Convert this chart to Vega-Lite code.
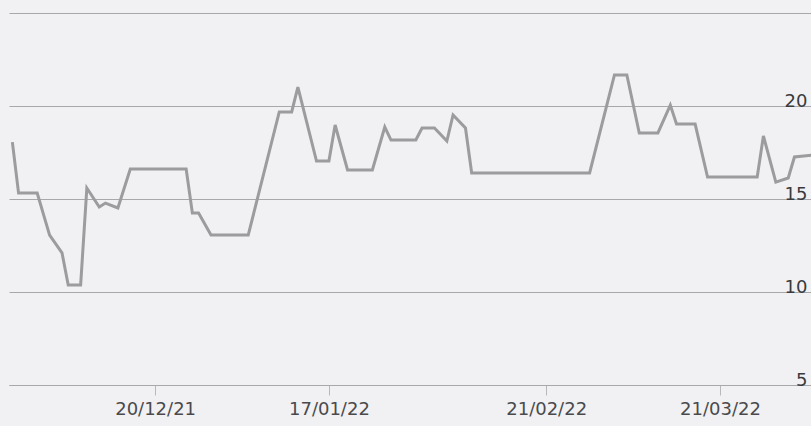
{
  "$schema": "https://vega.github.io/schema/vega-lite/v6.json",
  "width": 802,
  "height": 385,
  "autosize": "none",
  "padding": {"left": 9, "top": 0, "right": 0, "bottom": 41},
  "background": "#f1f1f3",
  "config": {"view": {"stroke": null}},
  "data": {"values": [
    {"date": "2021-11-27", "value": 18.06},
    {"date": "2021-11-28", "value": 15.32},
    {"date": "2021-12-01", "value": 15.32},
    {"date": "2021-12-03", "value": 13.06},
    {"date": "2021-12-05", "value": 12.10},
    {"date": "2021-12-06", "value": 10.38},
    {"date": "2021-12-08", "value": 10.38},
    {"date": "2021-12-09", "value": 15.59},
    {"date": "2021-12-11", "value": 14.57},
    {"date": "2021-12-12", "value": 14.78},
    {"date": "2021-12-14", "value": 14.52},
    {"date": "2021-12-16", "value": 16.61},
    {"date": "2021-12-25", "value": 16.61},
    {"date": "2021-12-26", "value": 14.25},
    {"date": "2021-12-27", "value": 14.25},
    {"date": "2021-12-29", "value": 13.06},
    {"date": "2022-01-04", "value": 13.06},
    {"date": "2022-01-09", "value": 19.68},
    {"date": "2022-01-11", "value": 19.68},
    {"date": "2022-01-12", "value": 21.02},
    {"date": "2022-01-15", "value": 17.04},
    {"date": "2022-01-17", "value": 17.04},
    {"date": "2022-01-18", "value": 18.98},
    {"date": "2022-01-20", "value": 16.56},
    {"date": "2022-01-24", "value": 16.56},
    {"date": "2022-01-26", "value": 18.87},
    {"date": "2022-01-27", "value": 18.17},
    {"date": "2022-01-31", "value": 18.17},
    {"date": "2022-02-01", "value": 18.82},
    {"date": "2022-02-03", "value": 18.82},
    {"date": "2022-02-05", "value": 18.12},
    {"date": "2022-02-06", "value": 19.52},
    {"date": "2022-02-08", "value": 18.82},
    {"date": "2022-02-09", "value": 16.40},
    {"date": "2022-02-28", "value": 16.40},
    {"date": "2022-03-04", "value": 21.67},
    {"date": "2022-03-06", "value": 21.67},
    {"date": "2022-03-08", "value": 18.55},
    {"date": "2022-03-11", "value": 18.55},
    {"date": "2022-03-13", "value": 20.05},
    {"date": "2022-03-14", "value": 19.03},
    {"date": "2022-03-17", "value": 19.03},
    {"date": "2022-03-19", "value": 16.18},
    {"date": "2022-03-27", "value": 16.18},
    {"date": "2022-03-28", "value": 18.39},
    {"date": "2022-03-30", "value": 15.91},
    {"date": "2022-04-01", "value": 16.13},
    {"date": "2022-04-02", "value": 17.26},
    {"date": "2022-04-05", "value": 17.37}
  ]},
  "mark": {"type": "line", "color": "#9c9c9e", "strokeWidth": 3, "clip": true, "strokeJoin": "miter"},
  "encoding": {
    "x": {
      "field": "date",
      "type": "temporal",
      "scale": {
        "type": "utc",
        "domain": [
          {"year": 2021, "month": 11, "date": 26, "hours": 11, "utc": true},
          {"year": 2022, "month": 4, "date": 4, "hours": 16, "utc": true}
        ]
      },
      "axis": {
        "title": null,
        "grid": false,
        "values": [
          {"year": 2021, "month": 12, "date": 20, "utc": true},
          {"year": 2022, "month": 1, "date": 17, "utc": true},
          {"year": 2022, "month": 2, "date": 21, "utc": true},
          {"year": 2022, "month": 3, "date": 21, "utc": true}
        ],
        "format": "%d/%m/%y",
        "domainColor": "#a8a8aa",
        "domainWidth": 1,
        "tickColor": "#b8b8ba",
        "tickSize": 10,
        "labelFont": "DejaVu Sans",
        "labelFontSize": 18,
        "labelColor": "#4a4a4c",
        "labelPadding": 5,
        "labelFlush": false
      }
    },
    "y": {
      "field": "value",
      "type": "quantitative",
      "scale": {"domain": [5, 25.7], "nice": false, "zero": false},
      "axis": {
        "title": null,
        "orient": "right",
        "values": [5, 10, 15, 20, 25],
        "labelExpr": "datum.value == 25 ? '' : datum.label",
        "domain": false,
        "ticks": false,
        "gridColor": "#a8a8aa",
        "gridWidth": 1,
        "labelAlign": "right",
        "labelBaseline": "alphabetic",
        "labelPadding": -4,
        "labelDy": -5,
        "labelFont": "DejaVu Sans",
        "labelFontSize": 18,
        "labelColor": "#3a3a3c"
      }
    }
  }
}
